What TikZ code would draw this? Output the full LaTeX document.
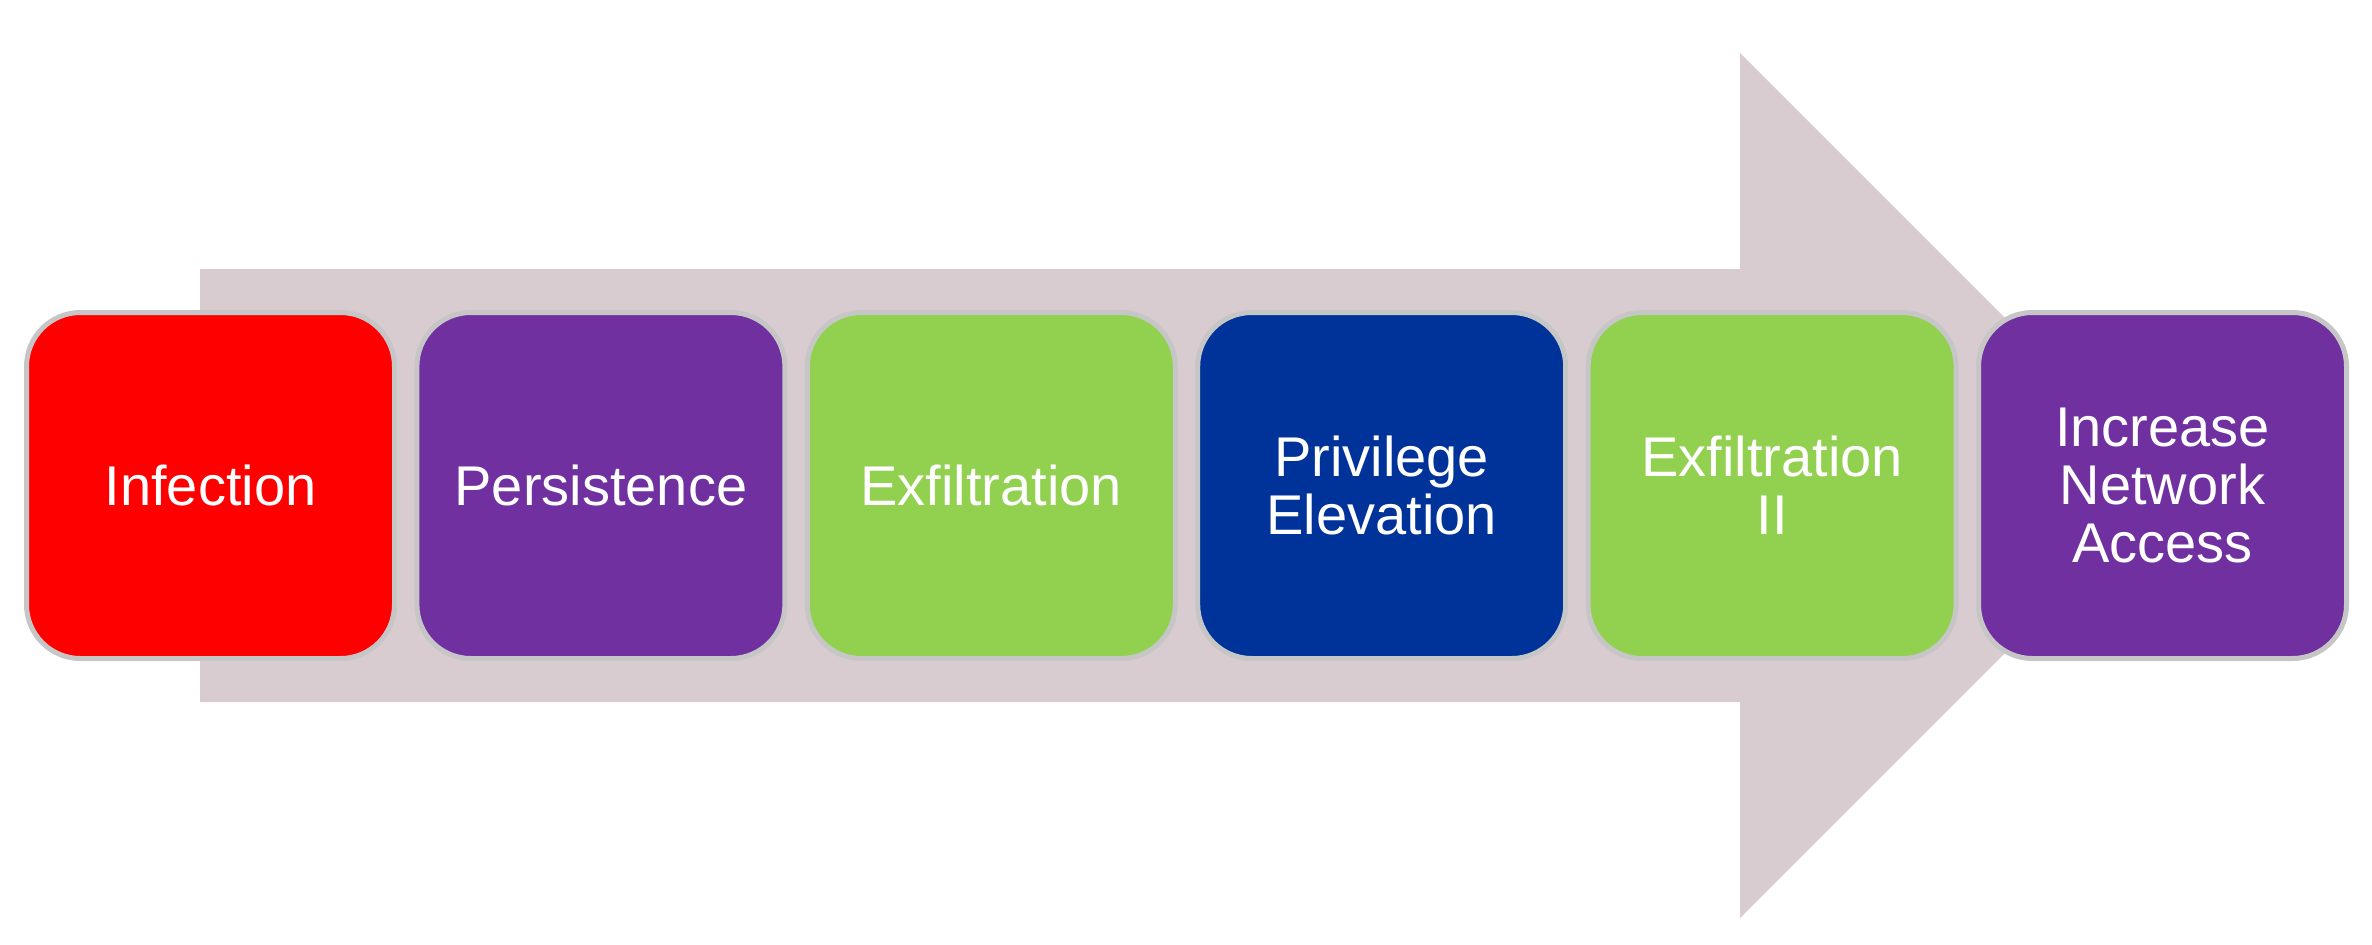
\documentclass[tikz,border=0pt]{standalone}
\usepackage{fontspec}
\setmainfont{Liberation Sans}
\usepackage{xcolor}
\usetikzlibrary{positioning}

\definecolor{arrowpink}{HTML}{D9CCD1}
\definecolor{boxrim}{HTML}{C6C6C6}
\definecolor{infred}{HTML}{FF0000}
\definecolor{stagepurple}{HTML}{7030A0}
\definecolor{stagegreen}{HTML}{92D050}
\definecolor{stageblue}{HTML}{003399}

\begin{document}
\begin{tikzpicture}[x=0.5pt, y=-0.5pt, node distance=8.7pt,
    stage/.style={draw=boxrim, line width=2.5pt, rectangle, rounded corners=27pt,
        minimum width=184pt, minimum height=173pt, text=white, align=center,
        font=\fontsize{28pt}{29pt}\selectfont}]
    \useasboundingbox (0,0) rectangle (2372,944);

    % Big arrow behind the stages
    \fill[arrowpink] (200,269) -- (1740,269) -- (1740,53) -- (2172.5,485.5)
        -- (1740,918) -- (1740,702) -- (200,702) -- cycle;

    % Stages
    \node[stage, fill=infred] (infection) at (210.5,485.5) {Infection};
    \node[stage, fill=stagepurple, right=of infection] (persistence) {Persistence};
    \node[stage, fill=stagegreen, right=of persistence] (exfil) {Exfiltration};
    \node[stage, fill=stageblue, right=of exfil] (privilege) {Privilege\\Elevation};
    \node[stage, fill=stagegreen, right=of privilege] (exfil-two) {Exfiltration\\II};
    \node[stage, fill=stagepurple, right=of exfil-two] (network) {Increase\\Network\\Access};
\end{tikzpicture}
\end{document}
